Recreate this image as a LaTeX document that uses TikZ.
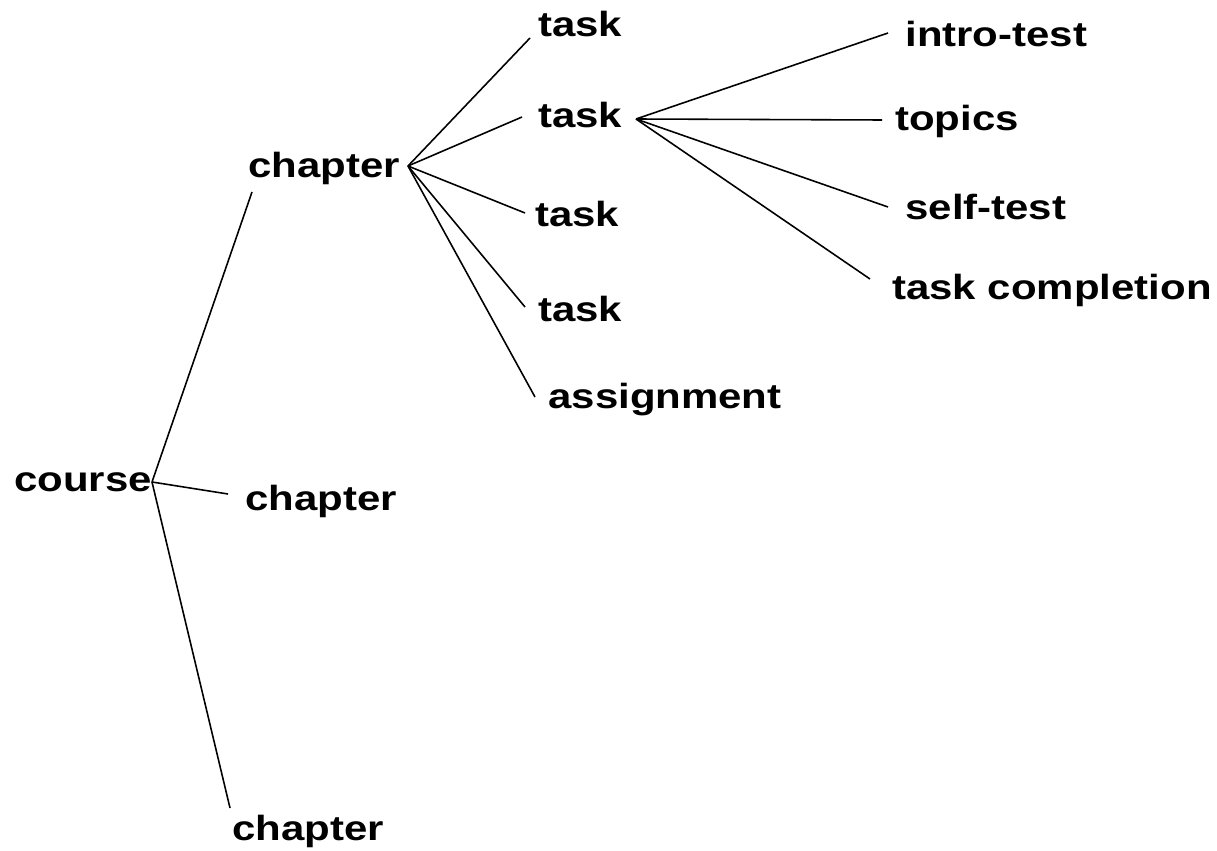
\documentclass[tikz,border=0pt]{standalone}
\usepackage{fontspec}
\setmainfont[FakeStretch=1.2]{Liberation Sans}
\usetikzlibrary{positioning}

\begin{document}
\begin{tikzpicture}[
  x=0.02cm, y=-0.02cm,
  word/.style={anchor=base west, inner sep=0pt, font=\fontsize{19.9}{24}\selectfont\bfseries},
  branch/.style={draw=black, line width=0.9pt}
]
  \useasboundingbox (0,0) rectangle (1217,851);

  % course and its chapters
  \node[word] (course) at (14,491) {course};
  \node[word] (ch1) at (248,178) {chapter};
  \node[word] (ch2) at (245,510) {chapter};
  \node[word] (ch3) at (232,840) {chapter};

  % parts of the first chapter
  \foreach \i/\x/\y in {1/538/37,2/538/128,3/535/227,4/538/321} {
    \node[word] (task\i) at (\x,\y) {task};
  }
  \node[word] (assign) at (548,408) {assignment};

  % steps of a task
  \node[word] (intro) at (905,47) {intro-test};
  \node[word] (topics) at (895,131) {topics};
  \node[word] (self) at (905,220) {self-test};
  \node[word] (compl) at (892,299) {task completion};

  % where the branches meet and end
  \coordinate (course-hub) at (152,482);
  \coordinate (ch1-hub) at (408,166);
  \coordinate (task2-hub) at (636,119);
  \coordinate (ch1-end) at (252,192);
  \coordinate (ch2-end) at (228,494);
  \coordinate (ch3-end) at (230,808);
  \coordinate (task1-end) at (530,38);
  \coordinate (task2-end) at (522,117);
  \coordinate (task3-end) at (525,213);
  \coordinate (task4-end) at (525,307);
  \coordinate (assign-end) at (535,397);
  \coordinate (intro-end) at (888,33);
  \coordinate (topics-end) at (882,120);
  \coordinate (self-end) at (888,207);
  \coordinate (compl-end) at (870,279);

  \foreach \e in {ch1,ch2,ch3}
    \draw[branch] (course-hub) -- (\e-end);
  \foreach \e in {task1,task2,task3,task4,assign}
    \draw[branch] (ch1-hub) -- (\e-end);
  \foreach \e in {intro,topics,self,compl}
    \draw[branch] (task2-hub) -- (\e-end);
\end{tikzpicture}
\end{document}
